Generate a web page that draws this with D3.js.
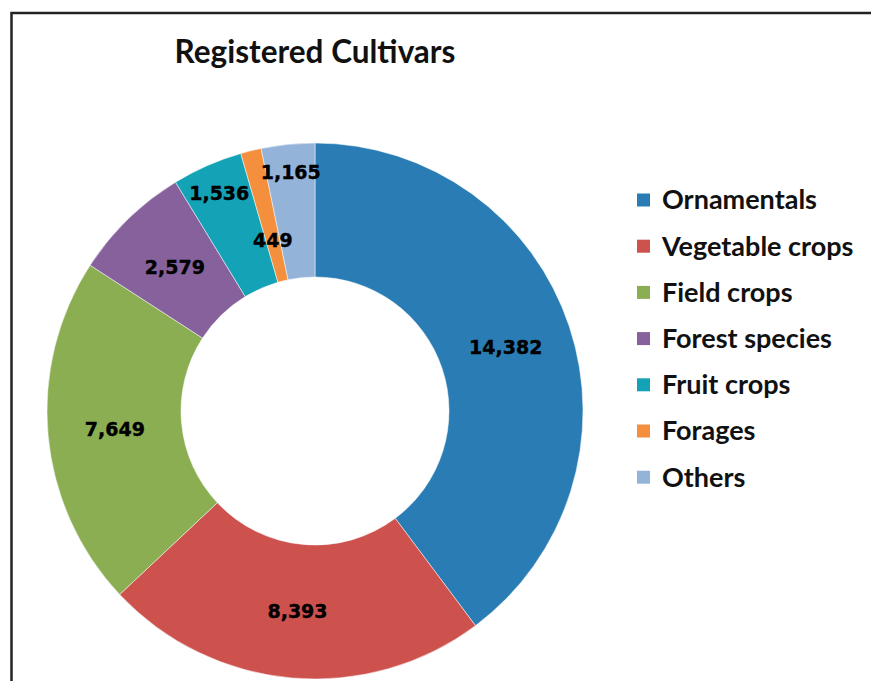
<!DOCTYPE html>
<html>
<head>
<meta charset="utf-8">
<script src="https://cdn.jsdelivr.net/npm/d3@7"></script>
<style>
  body { margin: 0; background: #fff; }
  svg { display: block; }
</style>
</head>
<body>
<div id="chart"></div>
<script>
// données
const categories = ["Ornamentals", "Vegetable crops", "Field crops", "Forest species", "Fruit crops", "Forages", "Others"];
const values = [14382, 8393, 7649, 2579, 1536, 449, 1165];
const colors = ["#2a7db4", "#cd514d", "#8bae52", "#86619b", "#14a2b7", "#f38f3d", "#94b3d9"];

const width = 871;
const height = 681;
const cx = 315, cy = 411;
const outerR = 268, innerR = 134;

// rayon des étiquettes (les petites parts sont décalées comme dans Excel)
const labelRadius = { "Fruit crops": 238, "Forages": 176, "Others": 240 };

const data = categories.map((c, i) => ({ cat: c, value: values[i], color: colors[i] }));

const svg = d3.select("#chart")
  .append("svg")
  .attr("width", width)
  .attr("height", height);

// cadre
svg.append("rect")
  .attr("x", 11.5).attr("y", 13)
  .attr("width", 900).attr("height", 700)
  .attr("fill", "none")
  .attr("stroke", "#222")
  .attr("stroke-width", 2.5);

// titre
svg.append("text")
  .attr("x", 315).attr("y", 63)
  .attr("text-anchor", "middle")
  .attr("font-family", "Lato, 'Open Sans', sans-serif")
  .attr("font-weight", "bold")
  .attr("font-size", "31.5px")
  .attr("fill", "#111")
  .text("Registered Cultivars");

//---------------------------------------------------------------------------------------
// Donut

const pie = d3.pie().value(d => d.value).sort(null);
const arc = d3.arc().innerRadius(innerR).outerRadius(outerR);
const arcs = pie(data);

const g = svg.append("g").attr("transform", `translate(${cx}, ${cy})`);

g.selectAll("path")
  .data(arcs)
  .join("path")
  .attr("d", arc)
  .attr("fill", d => d.data.color)
  .attr("stroke", "#fff")
  .attr("stroke-width", 0.5);

g.selectAll("text")
  .data(arcs)
  .join("text")
  .attr("transform", d => {
    const r = labelRadius[d.data.cat] || (innerR + outerR) / 2;
    const a = (d.startAngle + d.endAngle) / 2;
    return `translate(${Math.sin(a) * r}, ${-Math.cos(a) * r})`;
  })
  .attr("text-anchor", "middle")
  .attr("dy", "0.36em")
  .attr("font-family", "'DejaVu Sans', sans-serif")
  .attr("font-weight", "bold")
  .attr("font-size", "19px")
  .attr("fill", "#000")
  .attr("stroke", "#000")
  .attr("stroke-width", 0.4)
  .text(d => d3.format(",")(d.data.value));

//---------------------------------------------------------------------------------------
// Légende

const legend = svg.append("g").attr("transform", "translate(637, 200)");

const items = legend.selectAll("g")
  .data(data)
  .join("g")
  .attr("transform", (d, i) => `translate(0, ${i * 46.2})`);

items.append("rect")
  .attr("x", 0).attr("y", -6.5)
  .attr("width", 13).attr("height", 13)
  .attr("fill", d => d.color);

items.append("text")
  .attr("x", 25)
  .attr("dy", "0.35em")
  .attr("font-family", "Lato, 'Open Sans', sans-serif")
  .attr("font-weight", "bold")
  .attr("font-size", "27px")
  .attr("fill", "#111")
  .text(d => d.cat);
</script>
</body>
</html>
